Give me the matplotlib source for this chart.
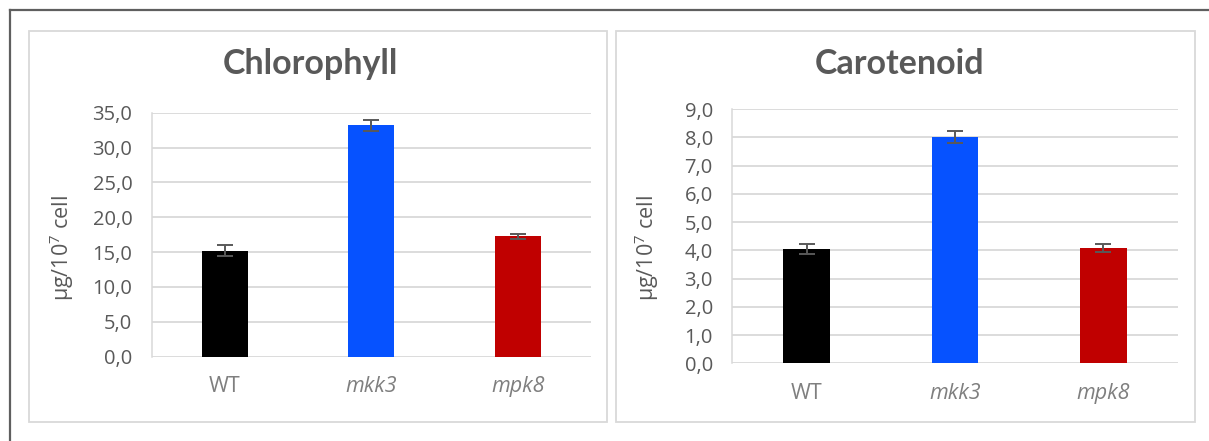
import matplotlib

matplotlib.use("Agg")

import matplotlib.pyplot as plt
from matplotlib.patches import Rectangle
from matplotlib.lines import Line2D
from matplotlib.ticker import FuncFormatter

# pigment content per 10^7 cells
strains = ["WT", "mkk3", "mpk8"]
strain_italic = [False, True, True]
bar_colors = ["#000000", "#0652FF", "#C00000"]

chlorophyll = [15.2, 33.2, 17.3]
chlorophyll_err = [0.8, 0.8, 0.35]

carotenoid = [4.05, 8.0, 4.07]
carotenoid_err = [0.17, 0.22, 0.14]

W, H = 1209, 441
fig = plt.figure(figsize=(W / 100, H / 100), dpi=100)

GRID = "#d9d9d9"
DARK = "#595959"
LIGHT = "#7f7f7f"


def px_box(x0, y0, x1, y1):
    # pixel box (top-left origin) -> figure fraction [left, bottom, width, height]
    return [x0 / W, 1 - y1 / H, (x1 - x0) / W, (y1 - y0) / H]


def comma_fmt(v, pos):
    return f"{v:.1f}".replace(".", ",")


def draw_panel(rect, title, title_x, values, errors, ymax, step, ylab_x):
    ax = fig.add_axes(px_box(*rect))
    xs = range(len(strains))
    ax.bar(xs, values, width=0.315, color=bar_colors, zorder=3)
    ax.errorbar(xs, values, yerr=errors, fmt="none", ecolor=DARK,
                elinewidth=1.4, capsize=6, capthick=1.4, zorder=4)
    ax.set_xlim(-0.5, len(strains) - 0.5)
    ax.set_ylim(0, ymax)
    ticks = [i * step for i in range(int(round(ymax / step)) + 1)]
    ax.set_yticks(ticks)
    ax.yaxis.set_major_formatter(FuncFormatter(comma_fmt))
    ax.grid(axis="y", color=GRID, linewidth=1.3, zorder=0)
    for s in ["top", "right", "bottom"]:
        ax.spines[s].set_visible(False)
    ax.spines["left"].set_color(GRID)
    ax.spines["left"].set_linewidth(1.1)
    ax.tick_params(axis="y", length=0, pad=14, labelsize=14.5, labelcolor=DARK)
    ax.tick_params(axis="x", length=0, pad=14, labelsize=15.5, labelcolor=LIGHT)
    ax.set_xticks(list(xs))
    ax.set_xticklabels(strains)
    for lab, it in zip(ax.get_xticklabels(), strain_italic):
        if it:
            lab.set_fontstyle("italic")
    for lab in ax.get_yticklabels() + ax.get_xticklabels():
        lab.set_fontfamily("Open Sans")
    fig.text(ylab_x / W, 1 - 248 / H, r"µg/10$^{\mathregular{7}}$ cell",
             rotation=90, ha="center", va="center", fontsize=15.5,
             color=DARK, family="Open Sans")
    fig.text(title_x / W, 1 - 74 / H, title, ha="center", va="baseline",
             fontsize=24.5, fontweight="bold", color=DARK, family="Lato")
    return ax


# panel frames
for x0, y0, x1, y1 in [(28.5, 31, 606.5, 421.5), (616, 31, 1195, 421.5)]:
    fig.patches.append(Rectangle((x0 / W, 1 - y1 / H), (x1 - x0) / W, (y1 - y0) / H,
                                 transform=fig.transFigure, fill=False,
                                 edgecolor=GRID, linewidth=1.3))

# outer frame (top and left edges only visible)
fig.lines.append(Line2D([10 / W, 10 / W], [0, 1 - 10 / H], transform=fig.transFigure,
                        color="#5f5f5f", linewidth=1.6))
fig.lines.append(Line2D([10 / W, 1], [1 - 10 / H, 1 - 10 / H], transform=fig.transFigure,
                        color="#5f5f5f", linewidth=1.6))

draw_panel((151.7, 112.7, 591, 356.7), "Chlorophyll", 310.5,
           chlorophyll, chlorophyll_err, 35, 5, 62)
draw_panel((732.3, 109, 1177.7, 363.3), "Carotenoid", 900,
           carotenoid, carotenoid_err, 9, 1, 647)

fig.savefig("out.png", dpi=100)
